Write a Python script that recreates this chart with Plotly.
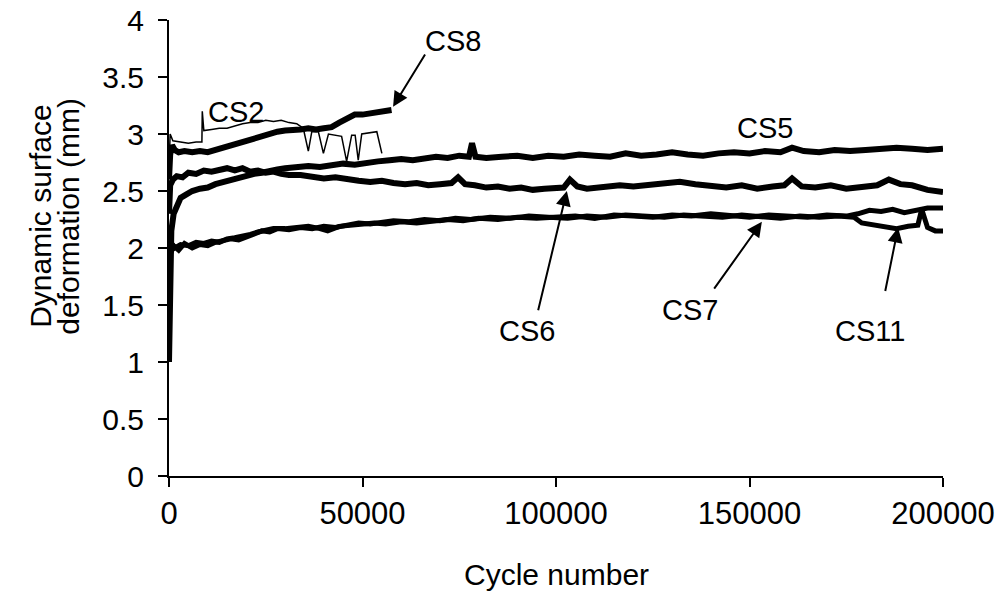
import plotly.graph_objects as go

# cycle number vs dynamic surface deformation (mm)
cs2_x = [0, 300, 1000, 3000, 5000, 7000, 8500, 8600, 9000, 11000,
         13000, 15000, 17000, 19000, 21000, 23000, 25000, 27000, 29000, 31000,
         33000, 34700, 36000, 36900, 38600, 39900, 41200, 43300, 44600, 45900,
         47200, 48100, 48900, 49800, 51900, 53700, 55000]
cs2_y = [2.7, 3.0, 2.94, 2.93, 2.92, 2.93, 2.93, 3.2, 3.03, 3.04,
         3.05, 3.05, 3.07, 3.09, 3.1, 3.1, 3.12, 3.11, 3.12, 3.1,
         3.09, 3.05, 2.85, 3.02, 3.02, 2.83, 3.0, 2.99, 2.98, 2.76,
         2.99, 2.99, 2.77, 3.0, 3.01, 3.02, 2.83]

cs8_x = [0, 300, 800, 1500, 2500, 4000, 6000, 8000, 10000, 12000,
         14000, 16000, 18000, 20000, 22000, 24000, 26000, 28000, 30000, 32000,
         34000, 36000, 38000, 40000, 42000, 44000, 46000, 48000, 50000, 52000,
         54000, 56000, 57500]
cs8_y = [2.6, 2.82, 2.9, 2.86, 2.84, 2.85, 2.84, 2.85, 2.84, 2.86,
         2.88, 2.9, 2.92, 2.95, 2.97, 2.99, 3.0, 3.02, 3.03, 3.03,
         3.04, 3.05, 3.04, 3.05, 3.06, 3.1, 3.14, 3.17, 3.17, 3.18,
         3.18, 3.2, 3.21]

cs5_x = [0, 200, 600, 1200, 2000, 3000, 4500, 6000, 8000, 10000,
         12000, 14000, 16000, 18000, 20000, 22000, 24000, 26000, 28000, 30000,
         33000, 36000, 39000, 42000, 45000, 48000, 51000, 54000, 57000, 60000,
         63000, 66000, 69000, 72000, 75000, 77500, 78300, 79200, 82000, 86000,
         90000, 94000, 98000, 102000, 106000, 110000, 114000, 118000, 122000, 126000,
         130000, 134000, 138000, 142000, 146000, 150000, 154000, 158000, 161000, 164000,
         168000, 172000, 176000, 180000, 184000, 188000, 192000, 196000, 200000]
cs5_y = [1.0, 1.9, 2.15, 2.3, 2.38, 2.44, 2.47, 2.5, 2.52, 2.53,
         2.56, 2.58, 2.6, 2.62, 2.63, 2.65, 2.66, 2.68, 2.69, 2.7,
         2.71, 2.72, 2.71, 2.73, 2.74, 2.73, 2.75, 2.76, 2.77, 2.78,
         2.77, 2.79, 2.8, 2.79, 2.81, 2.8, 2.92, 2.8, 2.79, 2.8,
         2.81, 2.79, 2.81, 2.8, 2.82, 2.81, 2.8, 2.83, 2.81, 2.82,
         2.84, 2.82, 2.81, 2.83, 2.84, 2.83, 2.85, 2.84, 2.88, 2.85,
         2.84, 2.86, 2.85, 2.86, 2.87, 2.88, 2.87, 2.86, 2.87]

cs6_x = [0, 300, 1000, 2000, 3500, 5000, 7000, 9000, 11000, 13000,
         15000, 17000, 19000, 21000, 23000, 25000, 27000, 29000, 31000, 34000,
         37000, 40000, 43000, 46000, 49000, 52000, 55000, 58000, 61000, 64000,
         67000, 70000, 73000, 74700, 76500, 79000, 82000, 85000, 88000, 91000,
         94000, 97000, 100000, 102000, 103600, 105500, 108000, 112000, 116500, 120000,
         124000, 128000, 132000, 136000, 140000, 144000, 148000, 152000, 156000, 159000,
         161000, 163500, 167000, 171000, 175000, 179000, 183000, 186000, 189000, 192000,
         196000, 200000]
cs6_y = [2.3, 2.55, 2.6, 2.63, 2.62, 2.66, 2.65, 2.68, 2.67, 2.69,
         2.7, 2.68, 2.7, 2.67, 2.68, 2.66, 2.67, 2.65, 2.64, 2.64,
         2.62, 2.61, 2.62, 2.6, 2.59, 2.58, 2.59, 2.57, 2.56, 2.57,
         2.55, 2.56, 2.57, 2.62, 2.56, 2.55, 2.53, 2.54, 2.52, 2.53,
         2.51, 2.52, 2.52, 2.53, 2.6, 2.54, 2.52, 2.53, 2.55, 2.54,
         2.55, 2.56, 2.58, 2.56, 2.54, 2.53, 2.55, 2.52, 2.54, 2.55,
         2.61, 2.54, 2.53, 2.55, 2.52, 2.54, 2.55, 2.6, 2.56, 2.55,
         2.51, 2.49]

cs7_x = [0, 500, 1500, 3000, 5000, 7000, 9000, 11000, 13000, 15000,
         17000, 19000, 21000, 23000, 25000, 27000, 30000, 33000, 36000, 39000,
         41000, 44000, 47000, 50000, 53000, 56000, 60000, 64000, 68000, 72000,
         76000, 80000, 85000, 90000, 95000, 100000, 105000, 110000, 115000, 120000,
         125000, 130000, 135000, 140000, 145000, 150000, 155000, 160000, 165000, 170000,
         175000, 178000, 181000, 184000, 187000, 190000, 193000, 196000, 200000]
cs7_y = [1.95, 2.05, 2.0, 2.03, 2.02, 2.05, 2.04, 2.06, 2.05, 2.08,
         2.09, 2.1, 2.12, 2.14, 2.15, 2.17, 2.17, 2.18, 2.19, 2.17,
         2.15, 2.19, 2.2, 2.21, 2.22, 2.21, 2.23, 2.22, 2.24, 2.25,
         2.24, 2.26, 2.25, 2.27, 2.26, 2.27, 2.28, 2.26, 2.29, 2.28,
         2.27, 2.29, 2.28, 2.3, 2.28, 2.27, 2.29, 2.28, 2.27, 2.29,
         2.28, 2.3, 2.33, 2.32, 2.34, 2.31, 2.33, 2.35, 2.35]

cs11_x = [0, 400, 1200, 2500, 4000, 6000, 8000, 10000, 12000, 14000,
          16000, 18000, 20000, 22000, 24000, 26000, 28000, 31000, 34000, 37000,
          40000, 43000, 46000, 49000, 52000, 55000, 58000, 62000, 66000, 70000,
          74000, 78000, 83000, 88000, 93000, 98000, 103000, 108000, 113000, 118000,
          123000, 128000, 133000, 138000, 143000, 148000, 153000, 158000, 163000, 168000,
          173000, 177000, 179000, 182000, 185000, 188000, 191000, 193500, 194500, 196000,
          198000, 200000]
cs11_y = [2.05, 1.95, 2.02, 1.98, 2.04, 2.0, 2.03, 2.02, 2.05, 2.06,
          2.08, 2.07, 2.1, 2.13, 2.15, 2.14, 2.17, 2.16, 2.18, 2.17,
          2.19, 2.18, 2.2, 2.22, 2.21, 2.23, 2.24, 2.23, 2.25, 2.24,
          2.26, 2.25, 2.27, 2.26, 2.28, 2.27, 2.26, 2.28, 2.27, 2.29,
          2.28, 2.27, 2.29, 2.28, 2.27, 2.29, 2.28, 2.26, 2.28, 2.27,
          2.28, 2.27, 2.22, 2.2, 2.18, 2.17, 2.19, 2.2, 2.34, 2.18,
          2.15, 2.15]

series = [
    ("CS2", cs2_x, cs2_y, 1.5),
    ("CS8", cs8_x, cs8_y, 6),
    ("CS5", cs5_x, cs5_y, 6),
    ("CS6", cs6_x, cs6_y, 6),
    ("CS7", cs7_x, cs7_y, 5),
    ("CS11", cs11_x, cs11_y, 5),
]

FONT = "Liberation Sans, Arial, sans-serif"

fig = go.Figure()
for name, xs, ys, w in series:
    fig.add_trace(go.Scatter(x=xs, y=ys, mode="lines", name=name,
                             line=dict(color="black", width=w)))

# curve labels (text position, optional arrow tail and head)
labels = [
    ("CS2", 17300, 3.19, None),
    ("CS8", 73400, 3.82, (66400, 3.71, 57900, 3.24)),
    ("CS5", 154000, 3.05, None),
    ("CS6", 92500, 1.27, (95300, 1.44, 102800, 2.5)),
    ("CS7", 134600, 1.46, (140600, 1.63, 153200, 2.23)),
    ("CS11", 181100, 1.27, (185000, 1.61, 188400, 2.18)),
]
for text, tx, ty, arrow in labels:
    fig.add_annotation(x=tx, y=ty, text=text, showarrow=False,
                       xanchor="center", yanchor="middle",
                       font=dict(size=29, color="black", family=FONT))
    if arrow:
        ax, ay, hx, hy = arrow
        fig.add_annotation(x=hx, y=hy, ax=ax, ay=ay, axref="x", ayref="y",
                           text="", showarrow=True, arrowhead=2, arrowsize=1.5,
                           arrowwidth=2, arrowcolor="black")

# axis titles
title_font = dict(size=30, color="black", family=FONT)
fig.add_annotation(x=-0.167, y=0.57, xref="paper", yref="paper", text="Dynamic surface",
                   textangle=-90, showarrow=False, xanchor="center", yanchor="middle",
                   font=title_font)
fig.add_annotation(x=-0.131, y=0.57, xref="paper", yref="paper", text="deformation (mm)",
                   textangle=-90, showarrow=False, xanchor="center", yanchor="middle",
                   font=title_font)
fig.add_annotation(x=0.501, y=-0.215, xref="paper", yref="paper", text="Cycle number",
                   showarrow=False, xanchor="center", yanchor="middle", font=title_font)

fig.update_xaxes(range=[0, 200000], dtick=50000, tickformat="d",
                 showline=True, linecolor="black", linewidth=2,
                 ticks="outside", ticklen=9, tickwidth=2, tickcolor="black",
                 showgrid=False, zeroline=False, ticklabelstandoff=0,
                 ticklabeloverflow="allow", automargin=False,
                 tickfont=dict(size=31, color="black", family=FONT))
fig.update_yaxes(range=[0, 4], dtick=0.5,
                 showline=True, linecolor="black", linewidth=2,
                 ticks="outside", ticklen=9, tickwidth=2, tickcolor="black",
                 showgrid=False, zeroline=False, ticklabelstandoff=8,
                 ticklabeloverflow="allow", automargin=False,
                 tickfont=dict(size=30, color="black", family=FONT))

fig.update_layout(width=1000, height=592, showlegend=False,
                  paper_bgcolor="white", plot_bgcolor="white",
                  margin=dict(l=169, r=57, t=20, b=116),
                  font=dict(family=FONT, color="black"))

# drop the default page margin so the figure fills the window exactly
fig.write_html("out.html", config={"displayModeBar": False},
               post_script="document.body.style.margin='0';document.body.style.overflow='hidden';")
